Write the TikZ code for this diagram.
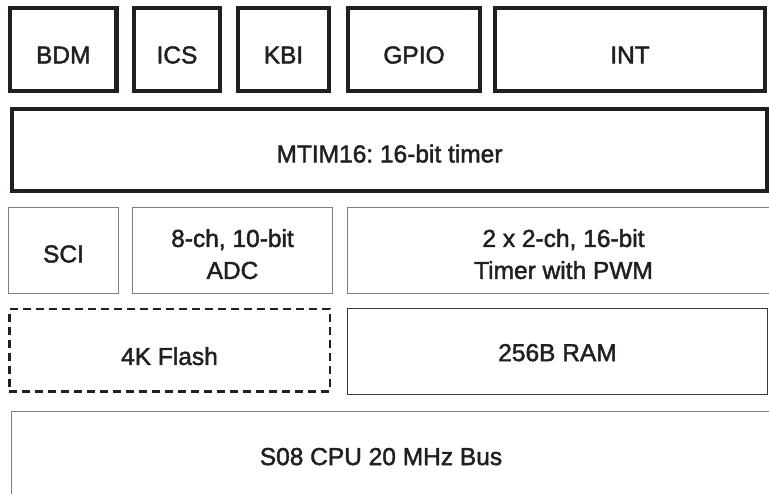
\documentclass[tikz,border=0pt]{standalone}
\usepackage{fontspec}
\setmainfont{Liberation Sans}
\newfontfamily\boxfont{Liberation Sans}[FakeBold=1.8]
\frenchspacing
\definecolor{boxink}{HTML}{231F20}
\definecolor{thingray}{HTML}{7F7F7F}
\definecolor{ramgray}{HTML}{3A3A3A}
\begin{document}
\begin{tikzpicture}[x=1pt,y=-1pt,
  every node/.style={inner sep=0pt,text=boxink,align=center,text depth=0pt,font=\boxfont\fontsize{24.5}{32}\selectfont},
  thickbox/.style={draw=boxink,line width=4.5pt},
  thinbox/.style={draw=thingray,line width=1pt},
  flashbox/.style={draw=boxink,line width=2.5pt,dash pattern=on 8pt off 5pt},
  rambox/.style={draw=ramgray,line width=1.2pt}]
 \useasboundingbox (0,0) rectangle (769,494);
 \clip (0,0) rectangle (769,494);
 % top row
 \node[thickbox,text height=27.9pt,minimum width=106.5pt,minimum height=83pt] (bdm) at (63.25,49.5) {BDM};
 \node[thickbox,text height=27.9pt,minimum width=86pt,minimum height=83pt] (ics) at (177,49.5) {ICS};
 \node[thickbox,text height=27.9pt,minimum width=91pt,minimum height=83pt] (kbi) at (283.5,49.5) {KBI};
 \node[thickbox,text height=27.9pt,minimum width=132pt,minimum height=83pt] (gpio) at (414,49.5) {GPIO};
 \node[thickbox,text height=27.9pt,minimum width=270pt,minimum height=83pt] (int) at (630,49.5) {INT};
 \node[thickbox,text height=24.8pt,minimum width=755pt,minimum height=82pt] (mtim) at (389.5,150) {MTIM16: 16-bit timer};
 % peripherals
 \node[thinbox,text height=23.9pt,minimum width=110pt,minimum height=86pt] (sci) at (63.5,250.5) {SCI};
 \node[thinbox,text height=56.8pt,minimum width=200pt,minimum height=86pt] (adc) at (232.5,250.5) {8-ch, 10-bit\\ADC};
 \node[thinbox,text height=56.8pt,minimum width=432pt,minimum height=86pt] (tpm) at (563.5,250.5) {2 x 2-ch, 16-bit\\Timer with PWM};
 % memory
 \node[flashbox,text height=28.8pt,minimum width=320.5pt,minimum height=82.5pt] (flash) at (169.5,350.5) {4K Flash};
 \node[rambox,text height=19.2pt,minimum width=419.8pt,minimum height=85.8pt] (ram) at (557.5,351.5) {256B RAM};
 % cpu
 \node[thinbox,anchor=north west,minimum width=800pt,minimum height=120pt] (cpu) at (10.5,411.5) {};
 \node (cputext) at (381,456.5) {S08 CPU 20 MHz Bus};
\end{tikzpicture}
\end{document}
